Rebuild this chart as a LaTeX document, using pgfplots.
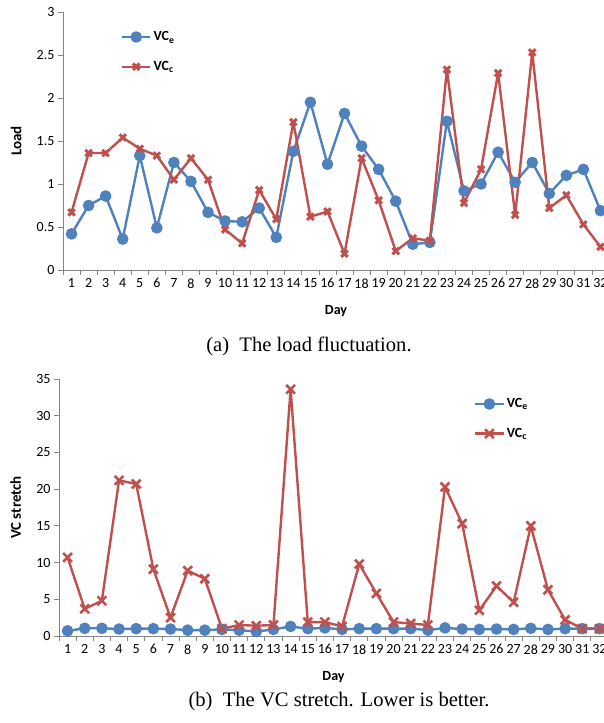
\documentclass[border=0pt]{standalone}
\usepackage{fontspec}
\setmainfont{Liberation Serif}
\newfontfamily\calibri{Carlito}
\usepackage{pgfplots}
\pgfplotsset{compat=1.18}

\definecolor{cE}{HTML}{4F81BD}
\definecolor{cC}{HTML}{C0504D}
\definecolor{cAx}{HTML}{868686}

\begin{document}
\begin{tikzpicture}
\pgfplotsset{
  every axis/.append style={
    scale only axis,
    xmin=0.5, xmax=32.5,
    axis x line*=bottom, axis y line*=left,
    axis line style={cAx, line width=0.8pt, -},
    xtick={1,...,32},
    minor xtick={0.5,1.5,...,32.5},
    major x tick style={draw=none},
    tick align=outside,
    major tick length=5pt, minor tick length=5pt,
    tick style={cAx, line width=0.8pt},
    /pgf/number format/assume math mode=true,
    tick label style={font=\calibri\fontsize{14}{16}\selectfont, black},
    every axis x label/.style={at={(axis description cs:0.5,-0.16)}, anchor=center,
        font=\calibri\bfseries\fontsize{14}{16}\selectfont},
    xlabel={Day},
    legend style={draw=none, fill=none, row sep=15pt,
                  font=\calibri\bfseries\fontsize{14}{16}\selectfont},
    legend cell align=left,
    legend image code/.code={\draw[mark repeat=2, mark phase=2, #1]
        plot coordinates {(0cm,0cm) (0.5cm,0cm) (1cm,0cm)};},
    every axis plot/.append style={line join=round},
  },
}

% ---------- (a) load ----------
\begin{axis}[
    name=axLoad, at={(0pt,0pt)}, anchor=south west,
    width=546pt, height=258pt,
    ymin=0, ymax=3, ytick={0,0.5,...,3},
    every axis y label/.style={at={(axis description cs:-0.086,0.5)}, rotate=90, anchor=center,
        font=\calibri\bfseries\fontsize{15}{17}\selectfont},
    ylabel={Load},
    legend style={at={(axis description cs:0.1,0.94)}, anchor=north west},
]
\addplot[cE, line width=2.4pt, mark=*, mark size=4.6pt, mark options={fill=cE}]
  coordinates {(1,0.42) (2,0.75) (3,0.86) (4,0.36) (5,1.33) (6,0.49) (7,1.25) (8,1.03)
               (9,0.67) (10,0.57) (11,0.56) (12,0.72) (13,0.38) (14,1.38) (15,1.95) (16,1.23)
               (17,1.82) (18,1.44) (19,1.17) (20,0.80) (21,0.30) (22,0.32) (23,1.73) (24,0.92)
               (25,1.00) (26,1.37) (27,1.02) (28,1.25) (29,0.89) (30,1.10) (31,1.17) (32,0.69)};
\addlegendentry{VC\textsubscript{e}}
\addplot[cC, line width=2.4pt, mark=x, mark size=4.6pt, mark options={line width=3pt}]
  coordinates {(1,0.67) (2,1.36) (3,1.36) (4,1.54) (5,1.41) (6,1.33) (7,1.05) (8,1.30)
               (9,1.05) (10,0.47) (11,0.31) (12,0.93) (13,0.59) (14,1.72) (15,0.62) (16,0.68)
               (17,0.19) (18,1.30) (19,0.81) (20,0.22) (21,0.37) (22,0.34) (23,2.33) (24,0.78)
               (25,1.17) (26,2.29) (27,0.64) (28,2.53) (29,0.72) (30,0.87) (31,0.53) (32,0.27)};
\addlegendentry{VC\textsubscript{c}}
\end{axis}

% ---------- (b) VC stretch ----------
\begin{axis}[
    name=axStr, at={(-4pt,-366pt)}, anchor=south west,
    width=549pt, height=257pt,
    ymin=0, ymax=35, ytick={0,5,...,35},
    every axis y label/.style={at={(axis description cs:-0.079,0.5)}, rotate=90, anchor=center,
        font=\calibri\bfseries\fontsize{15}{17}\selectfont},
    ylabel={VC stretch},
    legend style={at={(axis description cs:0.75,0.94)}, anchor=north west},
]
\addplot[cE, line width=2.4pt, mark=*, mark size=4.6pt, mark options={fill=cE}]
  coordinates {(1,0.7) (2,1.05) (3,1.05) (4,0.95) (5,1.0) (6,1.0) (7,0.95) (8,0.8)
               (9,0.8) (10,0.9) (11,0.8) (12,0.6) (13,0.9) (14,1.3) (15,1.0) (16,1.1)
               (17,0.9) (18,1.0) (19,1.0) (20,1.0) (21,1.0) (22,0.8) (23,1.1) (24,0.95)
               (25,0.9) (26,0.95) (27,0.9) (28,1.05) (29,0.9) (30,1.0) (31,1.0) (32,1.0)};
\addlegendentry{VC\textsubscript{e}}
\addplot[cC, line width=2.4pt, mark=x, mark size=6.2pt, mark options={line width=2.6pt}]
  coordinates {(1,10.7) (2,3.7) (3,4.8) (4,21.2) (5,20.7) (6,9.1) (7,2.5) (8,8.9)
               (9,7.8) (10,1.0) (11,1.5) (12,1.4) (13,1.5) (14,33.6) (15,1.9) (16,1.9)
               (17,1.3) (18,9.8) (19,5.8) (20,1.9) (21,1.7) (22,1.5) (23,20.3) (24,15.3)
               (25,3.5) (26,6.8) (27,4.6) (28,15.0) (29,6.3) (30,2.2) (31,1.0) (32,1.0)};
\addlegendentry{VC\textsubscript{c}}
\end{axis}

\node[font=\fontsize{20.6}{24}\selectfont] at (246pt,-76pt) {(a)\enspace The load fluctuation.};
\node[font=\fontsize{20.6}{24}\selectfont] at (276pt,-432pt) {(b)\enspace The VC stretch. Lower is better.};

\pgfresetboundingbox
\path[use as bounding box] (-63pt,-453pt) rectangle (541pt,270pt);
\end{tikzpicture}
\end{document}
